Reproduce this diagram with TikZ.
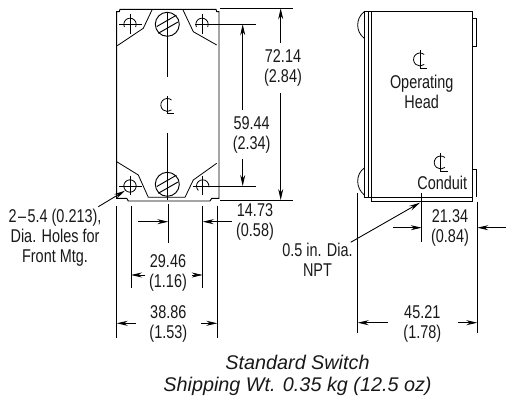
\documentclass[tikz,border=0pt]{standalone}
\usepackage{fontspec}
\setmainfont{Liberation Sans}
\newfontfamily\condf[FakeStretch=0.78]{Liberation Sans}
\usetikzlibrary{arrows.meta}
\tikzset{
  part/.style={line width=0.95pt,black,line join=miter},
  thin part/.style={line width=0.8pt,black},
  dim/.style={line width=0.85pt,black,-{Stealth[length=11pt,width=5pt]}},
  ext/.style={line width=0.85pt,black},
  lab/.style={font=\condf\fontsize{18.5}{20}\selectfont,align=center,inner sep=0pt,text=black!90},
  clmark/.pic={
    \draw[line width=0.8pt] (4.2,-5) arc (-50:-310:6.5);
    \draw[line width=0.8pt] (0,-9) -- (0,8.5) -- (7,8.5);
  },
  screw/.pic={
    \draw[part] (0,0) circle (12);
    \draw[part] (-10.5,2.2) -- (9,-9.0);
    \draw[part] (-9,9.0) -- (10.5,-2.2);
  }
}
\begin{document}
\begin{tikzpicture}[x=1pt,y=-1pt]
\useasboundingbox[fill=white] (0,0) rectangle (506,398);

% ---- front view
\draw[part] (116.7,11.7) -- (119.3,11.7) -- (120,9.3) -- (216,9.3) -- (216.7,11.7) -- (219,11.7)
  -- (219,198.3) -- (211.7,198.3) -- (210,201) -- (128.3,201) -- (126.7,198.3) -- (116.7,198.3) -- cycle;
\draw[thin part] (152.3,9.3) -- (143.3,28.3) -- (117.3,45.7);
\draw[thin part] (182.7,9.3) -- (193.3,31.7) -- (216.7,45);
\draw[thin part] (116.7,161.7) -- (138.3,175) -- (148.3,197.3) -- (185,197.3) -- (193.3,180) -- (216.7,163.3);
\pic at (167.3,24.3) {screw};
\pic at (167.3,184.3) {screw};
% holes
\draw[thin part] (124.4,27) arc (155:385:6.2);
\draw[thin part] (119,24.3) -- (141.5,24.3) (130,14) -- (130,34);
\draw[thin part] (196.4,27) arc (155:385:6.2);
\draw[thin part] (195,24.3) -- (256,24.3) (202,14) -- (202,34);
\draw[thin part] (130,186) circle (6.2);
\draw[thin part] (119,186) -- (141.5,186) (130,175.7) -- (130,195);
\draw[thin part] (198.3,190.4) arc (135:370:6.2);
\draw[thin part] (193,186) -- (256,186) (202.7,176) -- (202.7,195);
% centre line
\draw[thin part] (167.3,12) -- (167.3,76.7) (167.3,132.7) -- (167.3,200);
\pic at (167.3,105) {clmark};

% dims front
\coordinate (tl) at (220,8.3); \coordinate (tr) at (293,8.3);
\coordinate (bl) at (220,200); \coordinate (br) at (293,200);
\draw[ext] (tl) -- (tr) (bl) -- (br);
\node[lab] (d72) at (283,68) {72.14\\(2.84)};
\draw[dim] (280.7,43) -- (280.7,8.3);
\draw[dim] (280.7,93) -- (280.7,200);
\node[lab] (d59) at (251.7,134.5) {59.44\\(2.34)};
\draw[dim] (242.7,110) -- (242.7,24.3);
\draw[dim] (242.7,159) -- (242.7,186);

\draw[ext] (116.7,205.7) -- (116.7,338.3);
\draw[ext] (131,205.7) -- (131,288.3);
\draw[ext] (168.3,204) -- (168.3,243);
\draw[ext] (202.7,205.7) -- (202.7,288.3);
\draw[ext] (217.3,205.7) -- (217.3,338.3);
\draw[dim] (138,221.7) -- (168.3,221.7);
\draw[dim] (231.7,221.7) -- (202.7,221.7);
\node[lab] (d14) at (255,222) {14.73\\(0.58)};
\node[lab] (d29) at (168,273) {29.46\\(1.16)};
\draw[dim] (145,275) -- (131,275);
\draw[dim] (191.7,275) -- (202.7,275);
\node[lab] (d38) at (168.3,324) {38.86\\(1.53)};
\draw[dim] (135.7,323.3) -- (116.7,323.3);
\draw[dim] (201,323.3) -- (217.3,323.3);
\node[lab] (holes) at (55,237.3) {2\kern1.5pt–\kern1.5pt5.4 (0.213),\\Dia. Holes for\\Front Mtg.};
\draw[dim] (98.3,206.7) -- (125,190.7);

% ---- side view
\draw[part] (364.3,11) rectangle (472.3,197.3);
\draw[thin part] (367.9,11) -- (367.9,197.3);
\draw[part] (371.7,11) -- (371.7,201) -- (472.3,201) -- (472.3,197.3);
\draw[thin part] (472.3,18.3) -- (476,18.3) -- (476,46.7) -- (472.3,46.7);
\draw[thin part] (472.3,169) -- (476,169) -- (476,197.3);
\draw[thin part] (364.3,11.7) .. controls (355.5,18) and (355.5,32) .. (364.3,38.3);
\draw[thin part] (364.3,168) .. controls (355.5,174) and (355.5,188) .. (364.3,195);
\pic at (420,59.5) {clmark};
\pic at (440.7,162.5) {clmark};
\node[lab] (head) at (421.7,92) {Operating\\Head};
\node[lab] (cond) at (442.3,182.7) {Conduit};

\draw[ext] (357.7,193.3) -- (357.7,332.7);
\draw[ext] (421.7,193.3) -- (421.7,241.7);
\draw[ext] (477.3,201.7) -- (477.3,332.7);
\draw[dim] (393.3,227.7) -- (421.7,227.7);
\draw[dim] (506,227.7) -- (477.3,227.7);
\node[lab] (d21) at (450,227.5) {21.34\\(0.84)};
\node[lab] (d45) at (422.3,323.5) {45.21\\(1.78)};
\draw[dim] (387.7,322.7) -- (357.7,322.7);
\draw[dim] (457.7,322.7) -- (477.3,322.7);
\node[lab] (npt) at (317.5,260) {0.5 in. Dia.\\NPT};
\draw[dim] (350.7,242.3) -- (420,202.7);

\node[inner sep=0pt,align=center,text=black!90,font=\fontsize{19.8}{22.7}\selectfont\itshape] (cap) at (297.5,375.5) {Standard Switch\\Shipping Wt. 0.35 kg (12.5 oz)};
\end{tikzpicture}
\end{document}
